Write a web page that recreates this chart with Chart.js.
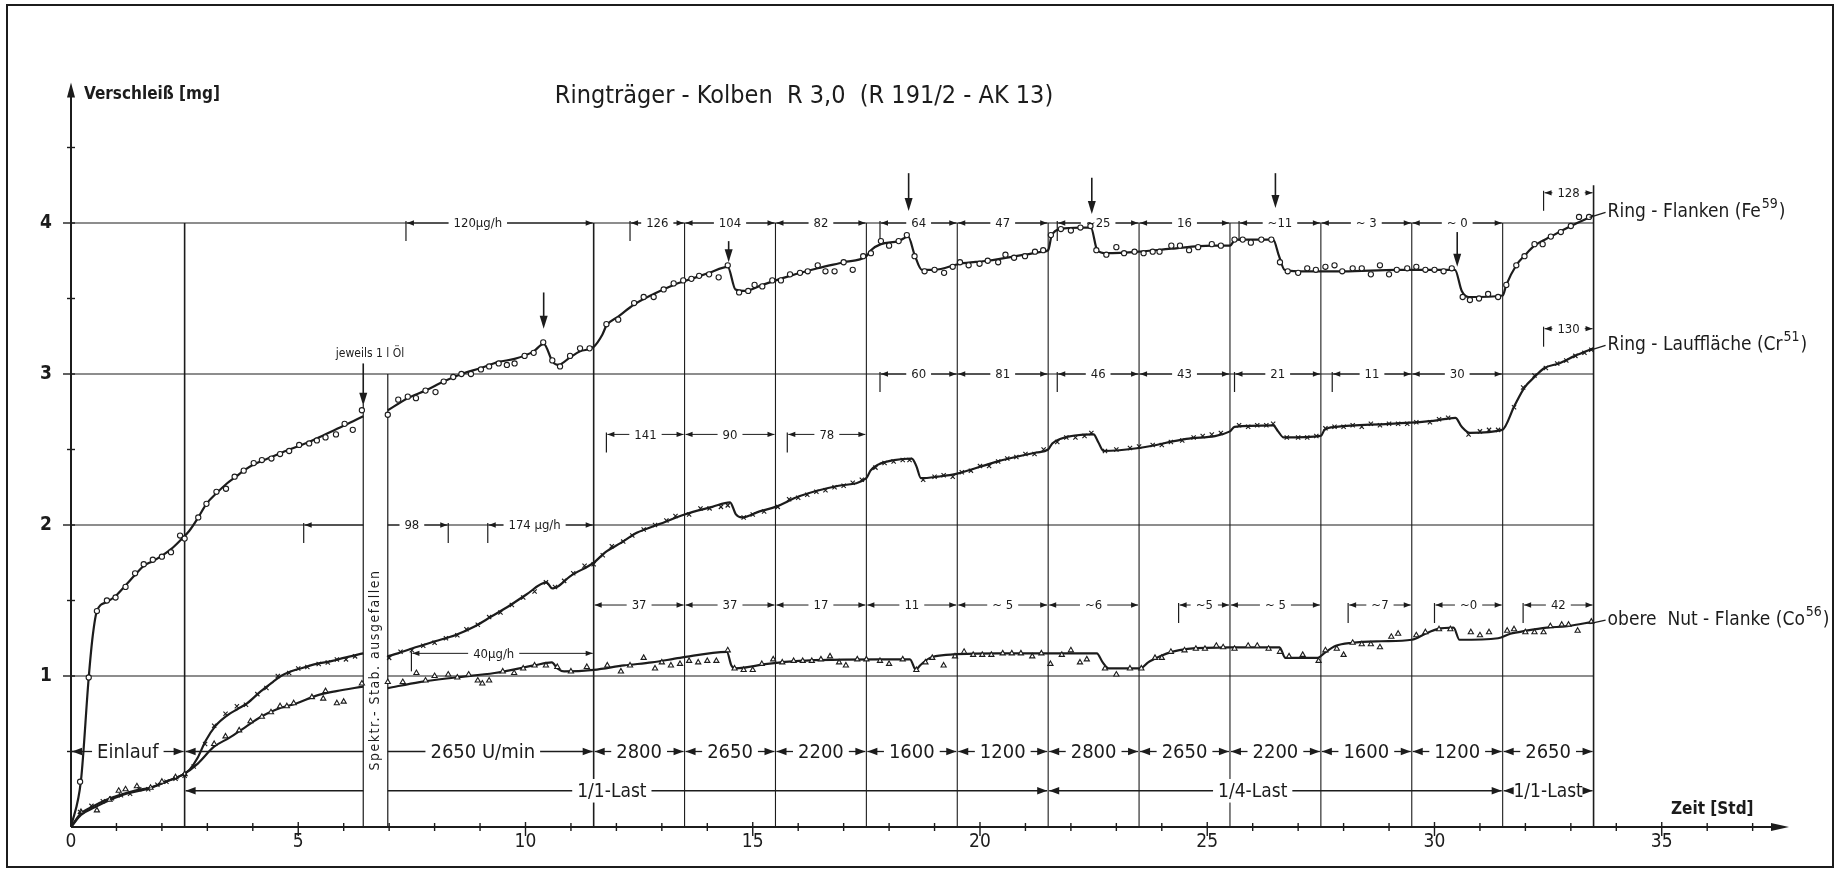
<!DOCTYPE html>
<html>
<head>
<meta charset="utf-8">
<script src="https://cdn.jsdelivr.net/npm/chart.js@4.4.1/dist/chart.umd.min.js"></script>
<style>
  html, body { margin: 0; padding: 0; background: #fff; }
</style>
</head>
<body>
<canvas id="wear-chart" width="1837" height="872"></canvas>
<script>
// ── Data (hours, mg) ─────────────────────────────────────────
// Ring-Flanken (Fe59) – fitted curve, null = spectrometer outage
const feCurve = [
  [0,0],[0.22,0.31],[0.39,0.99],[0.48,1.27],[0.57,1.43],[0.79,1.49],[0.98,1.53],[1.2,1.6],[1.41,1.67],
  [1.6,1.73],[1.8,1.76],[2.02,1.8],[2.2,1.84],[2.41,1.9],[2.6,1.96],[2.8,2.05],[2.98,2.14],[3.2,2.21],
  [3.41,2.27],[3.63,2.32],[3.8,2.36],[4.02,2.4],[4.41,2.45],[4.8,2.5],[5.24,2.55],[5.59,2.6],[6.02,2.66],
  [6.43,2.72],[6.7,null],[6.97,2.76],[7.41,2.84],[7.8,2.89],[8.2,2.95],[8.59,3.0],[9.02,3.04],[9.41,3.08],
  [9.76,3.1],[10.18,3.15],[10.4,3.2],[10.6,3.08],[10.72,3.06],[10.98,3.11],[11.2,3.15],[11.5,3.18],
  [11.69,3.26],[11.78,3.32],[12.04,3.38],[12.39,3.46],[12.82,3.53],[13.26,3.59],[13.65,3.63],[14.04,3.67],
  [14.45,3.71],[14.62,3.56],[14.82,3.55],[15.21,3.59],[15.82,3.65],[16.43,3.7],[17.0,3.74],[17.5,3.78],
  [17.6,3.82],[17.82,3.86],[18.21,3.88],[18.42,3.91],[18.56,3.79],[18.72,3.69],[19.0,3.69],[19.56,3.73],
  [20.17,3.75],[20.99,3.79],[21.39,3.81],[21.5,3.82],[21.58,3.92],[21.78,3.96],[22.21,3.97],[22.44,3.97],
  [22.58,3.82],[22.78,3.8],[23.5,3.81],[24.21,3.83],[25.1,3.85],[25.5,3.85],[25.62,3.89],[26.19,3.89],
  [26.45,3.89],[26.58,3.78],[26.7,3.69],[27.0,3.68],[28.0,3.68],[29.17,3.69],[30.2,3.69],[30.45,3.69],
  [30.6,3.55],[30.75,3.51],[31.5,3.52],[31.58,3.59],[31.8,3.72],[32.0,3.79],[32.2,3.85],[32.56,3.91],
  [33.0,3.98],[33.5,4.05]
];
const feMarks = [
  [0.2,0.3],[0.39,0.99],[0.57,1.43],[0.79,1.5],[0.98,1.52],[1.2,1.59],[1.41,1.68],[1.6,1.74],[1.8,1.77],
  [2.0,1.79],[2.2,1.82],[2.4,1.93],[2.5,1.91],[2.8,2.05],[2.98,2.14],[3.2,2.22],[3.41,2.24],[3.6,2.32],
  [3.8,2.36],[4.02,2.41],[4.2,2.43],[4.41,2.44],[4.6,2.47],[4.8,2.49],[5.02,2.53],[5.24,2.54],[5.41,2.56],
  [5.6,2.58],[5.83,2.6],[6.02,2.67],[6.2,2.63],[6.4,2.76],[6.97,2.73],[7.2,2.83],[7.41,2.85],[7.59,2.84],
  [7.8,2.89],[8.02,2.88],[8.2,2.95],[8.41,2.98],[8.59,3.0],[8.8,3.0],[9.02,3.03],[9.2,3.05],[9.41,3.07],
  [9.59,3.06],[9.76,3.07],[9.98,3.12],[10.18,3.14],[10.39,3.21],[10.59,3.09],[10.76,3.05],[10.98,3.12],
  [11.2,3.17],[11.41,3.17],[11.78,3.33],[12.04,3.36],[12.39,3.47],[12.6,3.51],[12.82,3.51],[13.04,3.56],
  [13.26,3.6],[13.47,3.62],[13.65,3.63],[13.82,3.65],[14.04,3.66],[14.25,3.64],[14.45,3.72],[14.7,3.54],
  [14.9,3.55],[15.04,3.59],[15.21,3.58],[15.43,3.62],[15.62,3.62],[15.82,3.66],[16.04,3.67],[16.21,3.68],
  [16.43,3.72],[16.6,3.68],[16.8,3.68],[17.0,3.74],[17.2,3.69],[17.43,3.78],[17.6,3.8],[17.82,3.88],
  [18.0,3.85],[18.21,3.88],[18.39,3.92],[18.56,3.78],[18.78,3.68],[19.0,3.69],[19.21,3.67],[19.4,3.71],
  [19.56,3.74],[19.75,3.72],[19.99,3.73],[20.17,3.75],[20.4,3.74],[20.56,3.79],[20.75,3.77],[20.99,3.78],
  [21.21,3.81],[21.39,3.82],[21.56,3.92],[21.78,3.96],[22.0,3.95],[22.21,3.97],[22.43,3.98],[22.56,3.82],
  [22.78,3.79],[23.0,3.84],[23.17,3.8],[23.4,3.81],[23.6,3.8],[23.8,3.81],[23.95,3.81],[24.21,3.85],
  [24.4,3.85],[24.6,3.82],[24.8,3.84],[25.1,3.86],[25.3,3.85],[25.6,3.89],[25.78,3.89],[25.96,3.87],
  [26.19,3.89],[26.41,3.89],[26.6,3.74],[26.77,3.68],[27.0,3.67],[27.2,3.7],[27.39,3.69],[27.6,3.71],
  [27.8,3.72],[27.97,3.68],[28.2,3.7],[28.4,3.7],[28.6,3.66],[28.8,3.72],[29.0,3.66],[29.17,3.69],
  [29.4,3.7],[29.6,3.71],[29.8,3.69],[30.0,3.69],[30.2,3.68],[30.38,3.7],[30.62,3.51],[30.78,3.49],
  [30.98,3.5],[31.18,3.53],[31.4,3.51],[31.58,3.59],[31.8,3.72],[31.98,3.78],[32.2,3.86],[32.38,3.86],
  [32.56,3.91],[32.78,3.94],[33.0,3.98],[33.18,4.04],[33.4,4.04]
];

// Ring-Lauffläche (Cr51)
const crCurve = [
  [0,0],[0.22,0.09],[0.44,0.13],[0.78,0.18],[1.05,0.21],[1.39,0.24],[1.74,0.26],[2.09,0.3],[2.48,0.35],
  [2.61,0.38],[2.79,0.46],[2.96,0.57],[3.18,0.67],[3.44,0.74],[3.66,0.78],[3.88,0.82],[4.18,0.9],[4.44,0.96],
  [4.62,1.0],[4.83,1.03],[5.05,1.05],[5.4,1.08],[5.75,1.1],[6.0,1.12],[6.43,1.15],[6.7,null],[6.97,1.13],
  [7.19,1.15],[7.58,1.19],[8.01,1.23],[8.45,1.27],[8.89,1.33],[9.23,1.39],[9.67,1.47],[10.02,1.54],
  [10.46,1.62],[10.59,1.58],[10.7,1.59],[10.98,1.66],[11.5,1.75],[11.76,1.82],[12.09,1.88],[12.46,1.95],
  [12.8,1.99],[13.07,2.02],[13.5,2.07],[14.11,2.12],[14.5,2.15],[14.63,2.07],[14.76,2.05],[15.15,2.09],
  [15.5,2.12],[16.02,2.19],[16.89,2.26],[17.5,2.31],[17.59,2.36],[17.76,2.4],[18.11,2.43],[18.5,2.44],
  [18.6,2.39],[18.7,2.31],[19.07,2.32],[19.5,2.34],[20.37,2.42],[21.24,2.48],[21.5,2.5],[21.59,2.54],
  [21.76,2.57],[22.5,2.6],[22.6,2.55],[22.72,2.49],[23.5,2.51],[24.54,2.57],[25.5,2.62],[25.6,2.65],
  [26.45,2.66],[26.56,2.62],[26.68,2.58],[27.5,2.59],[27.58,2.63],[27.84,2.65],[29.0,2.67],[29.97,2.69],
  [30.46,2.71],[30.6,2.65],[30.78,2.61],[31.49,2.63],[31.76,2.79],[31.98,2.91],[32.2,2.98],[32.42,3.04],
  [32.74,3.07],[33.09,3.12],[33.5,3.17]
];
const crMarks = [
  [0.2,0.1],[0.45,0.14],[0.7,0.17],[0.9,0.19],[1.1,0.21],[1.3,0.22],[1.5,0.25],[1.7,0.25],[1.9,0.28],
  [2.1,0.3],[2.3,0.32],[2.5,0.34],[2.7,0.4],[2.95,0.55],[3.15,0.67],[3.4,0.75],[3.65,0.8],[3.85,0.81],
  [4.1,0.88],[4.3,0.92],[4.55,1.0],[4.8,1.02],[5.0,1.05],[5.2,1.06],[5.45,1.08],[5.65,1.09],[5.85,1.11],
  [6.05,1.11],[6.25,1.13],[7.0,1.12],[7.25,1.16],[7.5,1.17],[7.75,1.2],[8.0,1.22],[8.25,1.25],[8.5,1.27],
  [8.7,1.31],[8.95,1.34],[9.2,1.39],[9.45,1.42],[9.7,1.47],[9.95,1.52],[10.2,1.56],[10.45,1.62],[10.65,1.59],
  [10.85,1.63],[11.05,1.68],[11.3,1.73],[11.5,1.74],[11.7,1.8],[11.9,1.86],[12.15,1.89],[12.35,1.93],
  [12.6,1.97],[12.85,2.0],[13.1,2.03],[13.3,2.06],[13.6,2.07],[13.85,2.11],[14.05,2.11],[14.3,2.12],
  [14.45,2.13],[14.8,2.05],[15.0,2.07],[15.25,2.09],[15.55,2.12],[15.8,2.17],[16.0,2.18],[16.2,2.2],
  [16.4,2.22],[16.6,2.23],[16.8,2.25],[17.0,2.26],[17.2,2.28],[17.4,2.3],[17.7,2.38],[17.9,2.41],[18.1,2.42],
  [18.3,2.43],[18.45,2.43],[18.75,2.3],[19.0,2.32],[19.2,2.33],[19.4,2.32],[19.6,2.35],[19.8,2.36],
  [20.0,2.39],[20.2,2.39],[20.4,2.42],[20.6,2.44],[20.8,2.45],[21.0,2.47],[21.2,2.47],[21.4,2.5],
  [21.7,2.55],[21.9,2.58],[22.1,2.58],[22.3,2.59],[22.45,2.61],[22.75,2.49],[23.0,2.5],[23.3,2.51],
  [23.5,2.52],[23.8,2.53],[24.0,2.53],[24.2,2.55],[24.45,2.56],[24.7,2.58],[24.9,2.59],[25.1,2.6],
  [25.3,2.61],[25.7,2.66],[25.9,2.65],[26.1,2.66],[26.3,2.66],[26.45,2.67],[26.75,2.58],[27.0,2.58],
  [27.2,2.58],[27.4,2.59],[27.6,2.64],[27.8,2.65],[28.0,2.65],[28.2,2.66],[28.4,2.65],[28.6,2.67],
  [28.8,2.66],[29.0,2.67],[29.2,2.67],[29.4,2.67],[29.6,2.68],[29.9,2.68],[30.1,2.7],[30.3,2.71],
  [30.75,2.6],[31.0,2.62],[31.2,2.63],[31.4,2.63],[31.75,2.78],[31.95,2.91],[32.2,2.99],[32.45,3.04],
  [32.7,3.07],[32.9,3.09],[33.1,3.12],[33.3,3.14],[33.45,3.16]
];

// obere Nut-Flanke (Co56)
const coCurve = [
  [0,0],[0.22,0.08],[0.52,0.13],[0.87,0.18],[1.22,0.22],[1.66,0.25],[2.09,0.3],[2.48,0.35],[2.79,0.42],
  [3.14,0.53],[3.48,0.59],[3.83,0.66],[4.18,0.73],[4.53,0.78],[4.97,0.82],[5.4,0.87],[5.84,0.9],[6.43,0.93],
  [6.7,null],[6.97,0.92],[7.67,0.96],[8.45,0.99],[9.32,1.02],[10.19,1.07],[10.58,1.09],[10.7,1.05],
  [10.85,1.03],[11.5,1.04],[12.17,1.07],[12.78,1.09],[13.4,1.12],[14.43,1.16],[14.53,1.07],[14.62,1.05],
  [15.32,1.08],[16.02,1.1],[17.76,1.11],[18.46,1.11],[18.59,1.04],[18.68,1.07],[18.9,1.12],[19.25,1.14],
  [20.38,1.15],[22.57,1.15],[22.7,1.09],[22.83,1.05],[23.53,1.05],[23.7,1.09],[23.96,1.13],[24.22,1.16],
  [24.57,1.18],[25.5,1.19],[26.59,1.19],[26.72,1.12],[27.43,1.12],[27.57,1.15],[27.83,1.2],[28.19,1.22],
  [28.82,1.23],[29.5,1.24],[29.8,1.28],[30.06,1.31],[30.42,1.32],[30.55,1.24],[31.4,1.25],[31.67,1.28],
  [32.02,1.3],[32.47,1.32],[32.92,1.33],[33.5,1.36]
];
const coMarks = [
  [0.22,0.1],[0.57,0.11],[0.85,0.18],[1.05,0.24],[1.2,0.25],[1.45,0.27],[1.75,0.26],[2.0,0.3],[2.3,0.33],
  [2.5,0.35],[3.15,0.55],[3.4,0.6],[3.7,0.64],[3.95,0.7],[4.2,0.73],[4.4,0.76],[4.6,0.8],[4.75,0.8],
  [4.9,0.82],[5.3,0.86],[5.55,0.85],[5.6,0.9],[5.85,0.82],[6.0,0.83],[6.4,0.95],[6.97,0.96],[7.3,0.96],
  [7.6,1.02],[7.8,0.97],[8.0,1.0],[8.3,1.01],[8.5,0.99],[8.75,1.01],[8.95,0.97],[9.05,0.95],[9.2,0.97],
  [9.5,1.03],[9.75,1.02],[9.95,1.05],[10.2,1.07],[10.45,1.07],[10.7,1.06],[11.0,1.03],[11.35,1.06],
  [11.8,1.07],[12.1,1.03],[12.3,1.07],[12.6,1.12],[12.85,1.05],[13.0,1.09],[13.2,1.07],[13.4,1.08],
  [13.6,1.1],[13.8,1.09],[14.0,1.1],[14.2,1.1],[14.45,1.17],[14.6,1.05],[14.8,1.04],[15.0,1.04],[15.2,1.08],
  [15.45,1.11],[15.65,1.09],[15.9,1.1],[16.1,1.1],[16.3,1.1],[16.5,1.11],[16.7,1.13],[16.9,1.09],
  [17.05,1.07],[17.3,1.11],[17.5,1.11],[17.8,1.1],[18.0,1.08],[18.3,1.11],[18.6,1.04],[18.8,1.09],
  [18.95,1.12],[19.2,1.07],[19.45,1.13],[19.65,1.16],[19.85,1.14],[20.05,1.14],[20.25,1.14],[20.5,1.15],
  [20.7,1.15],[20.9,1.15],[21.15,1.13],[21.35,1.15],[21.55,1.08],[21.8,1.14],[22.0,1.17],[22.2,1.09],
  [22.35,1.11],[22.75,1.05],[23.0,1.01],[23.3,1.05],[23.55,1.05],[23.85,1.12],[24.0,1.12],[24.2,1.16],
  [24.5,1.17],[24.75,1.18],[24.95,1.18],[25.2,1.2],[25.35,1.19],[25.6,1.18],[25.9,1.2],[26.1,1.2],
  [26.35,1.18],[26.6,1.16],[26.8,1.13],[27.1,1.14],[27.45,1.1],[27.6,1.17],[27.85,1.18],[28.0,1.14],
  [28.2,1.22],[28.4,1.21],[28.6,1.21],[28.8,1.19],[29.05,1.26],[29.2,1.28],[29.6,1.27],[29.8,1.29],
  [30.1,1.31],[30.35,1.31],[30.8,1.29],[31.0,1.27],[31.2,1.29],[31.6,1.3],[31.75,1.31],[32.0,1.29],
  [32.2,1.29],[32.4,1.29],[32.55,1.33],[32.8,1.34],[32.95,1.34],[33.15,1.3],[33.45,1.36]
];

// ── Test programme (hours) ───────────────────────────────────
const phaseEdges = [2.5, 11.5, 13.5, 15.5, 17.5, 19.5, 21.5, 23.5, 25.5, 27.5, 29.5, 31.5, 33.5];
const outage = [6.43, 6.97];           // Spektr.-Stab. ausgefallen
const gridLevels = [1, 2, 3, 4];

// [from h, to h, label, optional label centre h]
const speedRow = [
  [0, 2.5, 'Einlauf'], [2.5, 11.5, '2650 U/min', 9.06], [11.5, 13.5, '2800'], [13.5, 15.5, '2650'],
  [15.5, 17.5, '2200'], [17.5, 19.5, '1600'], [19.5, 21.5, '1200'], [21.5, 23.5, '2800'],
  [23.5, 25.5, '2650'], [25.5, 27.5, '2200'], [27.5, 29.5, '1600'], [29.5, 31.5, '1200'], [31.5, 33.5, '2650']
];
const loadRow = [[2.5, 21.5, '1/1-Last', 11.9], [21.5, 31.5, '1/4-Last', 26.0], [31.5, 33.5, '1/1-Last']];

// wear rates µg/h
const feRates = [
  [7.37, 11.5, '120µg/h', 8.95], [12.3, 13.5, '126'], [13.5, 15.5, '104'], [15.5, 17.5, '82'],
  [17.8, 19.5, '64'], [19.5, 21.5, '47'], [21.7, 23.5, '~25'], [23.5, 25.5, '16'],
  [25.7, 27.5, '~11'], [27.5, 29.5, '~ 3'], [29.5, 31.5, '~ 0']
];
const feRatesEnd = [[32.4, 33.5, '128']];
const crRatesTop = [
  [17.8, 19.5, '60'], [19.5, 21.5, '81'], [21.7, 23.5, '46'], [23.5, 25.5, '43'],
  [25.6, 27.5, '21'], [27.75, 29.5, '11'], [29.5, 31.5, '30']
];
const crRatesEnd = [[32.4, 33.5, '130']];
const crRatesMid = [[11.78, 13.5, '141'], [13.5, 15.5, '90'], [15.76, 17.5, '78']];
const crRatesLow = [[5.12, 8.3, '98', 7.5], [9.17, 11.5, '174 µg/h', 10.2]];
const coRates = [
  [11.5, 13.5, '37'], [13.5, 15.5, '37'], [15.5, 17.5, '17'], [17.5, 19.5, '11'], [19.5, 21.5, '~ 5'],
  [21.5, 23.5, '~6'], [24.37, 25.5, '~5'], [25.5, 27.5, '~ 5'], [28.1, 29.5, '~7'], [30.0, 31.5, '~0'],
  [31.95, 33.5, '42']
];
const coRatesEarly = [[7.49, 11.5, '40µg/h', 9.3]];

// oil top-up arrows on the Fe curve: [h, from mg, to mg]
const oilArrows = [[6.43, 3.07, 2.79], [10.4, 3.54, 3.3], [14.47, 3.88, 3.74], [18.43, 4.33, 4.08],
                   [22.46, 4.3, 4.06], [26.5, 4.33, 4.1], [30.5, 3.94, 3.71]];

// ── Style ────────────────────────────────────────────────────
const ink = '#1c1c1c';
const FONT = '"DejaVu Sans Condensed", "Liberation Sans Narrow", "DejaVu Sans", sans-serif';

const toPts = arr => arr.map(p => ({ x: p[0], y: p[1] }));

function curveSet(data) {
  return { data: toPts(data), showLine: true, borderColor: ink, borderWidth: 2.2, pointRadius: 0,
           cubicInterpolationMode: 'monotone', spanGaps: false, fill: false };
}
function markSet(data, style, r) {
  return { data: toPts(data), showLine: false, pointStyle: style, pointRadius: r, borderWidth: 1.1,
           borderColor: ink, backgroundColor: '#fff' };
}

// ── Drawing helpers ──────────────────────────────────────────
function arrowHead(ctx, x, y, ang, len, hw) {
  ctx.save();
  ctx.translate(x, y);
  ctx.rotate(ang);
  ctx.beginPath();
  ctx.moveTo(0, 0);
  ctx.lineTo(-len, -hw);
  ctx.lineTo(-len, hw);
  ctx.closePath();
  ctx.fill();
  ctx.restore();
}

function paperPlugin() {
  let X, Y;

  function hseg(ctx, a, b, py, skipGap) {
    const parts = [];
    if (skipGap) {
      const g1 = X(outage[0]), g2 = X(outage[1]);
      if (b <= g1 || a >= g2) parts.push([a, b]);
      else {
        if (a < g1) parts.push([a, g1]);
        if (b > g2) parts.push([g2, b]);
      }
    } else parts.push([a, b]);
    ctx.beginPath();
    parts.forEach(([p, q]) => { ctx.moveTo(p, py); ctx.lineTo(q, py); });
    ctx.stroke();
  }

  function bracket(ctx, item, yv, size, opts) {
    const [x1, x2, label, lx] = item;
    const px1 = X(x1), px2 = X(x2), py = Y(yv);
    const skipGap = yv <= 2.2;
    ctx.font = `${size}px ${FONT}`;
    const w = ctx.measureText(label).width;
    const cx = X(lx !== undefined ? lx : (x1 + x2) / 2);
    const l = cx - w / 2 - 5, r = cx + w / 2 + 5;
    // clear grid under label
    ctx.fillStyle = '#fff';
    ctx.fillRect(l, py - size * 0.62, r - l, size * 1.24);
    ctx.fillStyle = ink;
    ctx.lineWidth = opts.lw;
    hseg(ctx, px1 + 1, l, py, skipGap);
    hseg(ctx, r, px2 - 1, py, skipGap);
    arrowHead(ctx, px1 + 1, py, Math.PI, opts.ah, opts.ah * 0.38);
    arrowHead(ctx, px2 - 1, py, 0, opts.ah, opts.ah * 0.38);
    ctx.lineWidth = 1.2;
    [x1, x2].forEach(v => {
      if (v > 0.05 && !phaseEdges.includes(v)) {
        ctx.beginPath();
        ctx.moveTo(X(v), py - 2);
        ctx.lineTo(X(v), py + 18);
        ctx.stroke();
      }
    });
    ctx.textAlign = 'center';
    ctx.textBaseline = 'middle';
    ctx.fillText(label, cx, py + 1);
  }

  function supLabel(ctx, x, y, base, sup, tail, size) {
    ctx.textAlign = 'left';
    ctx.textBaseline = 'middle';
    ctx.font = `${size}px ${FONT}`;
    ctx.fillText(base, x, y);
    const w = ctx.measureText(base).width;
    ctx.font = `${Math.round(size * 0.72)}px ${FONT}`;
    ctx.fillText(sup, x + w + 1, y - size * 0.42);
    const w2 = ctx.measureText(sup).width;
    ctx.font = `${size}px ${FONT}`;
    ctx.fillText(tail, x + w + w2 + 2, y);
  }

  return {
    id: 'paper',
    beforeDraw(chart) {
      const ctx = chart.ctx;
      ctx.save();
      ctx.fillStyle = '#fff';
      ctx.fillRect(0, 0, chart.width, chart.height);
      ctx.restore();
    },
    beforeDatasetsDraw(chart) {
      const ctx = chart.ctx;
      const xs = chart.scales.x, ys = chart.scales.y;
      X = v => xs.getPixelForValue(v);
      Y = v => ys.getPixelForValue(v);
      const last = phaseEdges[phaseEdges.length - 1];
      ctx.save();
      ctx.strokeStyle = ink;
      ctx.fillStyle = ink;

      // horizontal grid
      ctx.lineWidth = 1.2;
      gridLevels.forEach(v => hseg(ctx, X(0), X(last), Y(v), v <= 2));

      // phase lines
      phaseEdges.forEach(v => {
        ctx.lineWidth = (v === 2.5 || v === 11.5 || v === last) ? 1.6 : 1.1;
        ctx.beginPath();
        ctx.moveTo(X(v), Y(0));
        ctx.lineTo(X(v), Y(v === last ? 4.25 : 4));
        ctx.stroke();
      });
      // outage band
      ctx.lineWidth = 1.2;
      ctx.beginPath();
      ctx.moveTo(X(outage[0]), Y(0)); ctx.lineTo(X(outage[0]), Y(2.8));
      ctx.moveTo(X(outage[1]), Y(0)); ctx.lineTo(X(outage[1]), Y(3));
      ctx.stroke();

      // rate brackets
      const small = { lw: 1, ah: 7 };
      feRates.forEach(it => bracket(ctx, it, 4.0, 13, small));
      feRatesEnd.forEach(it => bracket(ctx, it, 4.2, 13, small));
      crRatesTop.forEach(it => bracket(ctx, it, 3.0, 13, small));
      crRatesEnd.forEach(it => bracket(ctx, it, 3.3, 13, small));
      crRatesMid.forEach(it => bracket(ctx, it, 2.6, 13, small));
      crRatesLow.forEach(it => bracket(ctx, it, 2.0, 13, small));
      coRates.forEach(it => bracket(ctx, it, 1.47, 13, small));
      coRatesEarly.forEach(it => bracket(ctx, it, 1.15, 13, small));

      // speed and load rows
      const big = { lw: 1.3, ah: 10 };
      speedRow.forEach(it => bracket(ctx, it, 0.5, 20, big));
      loadRow.forEach(it => bracket(ctx, it, 0.24, 19, big));

      // oil arrows
      ctx.lineWidth = 1.6;
      oilArrows.forEach(([h, a, b]) => {
        ctx.beginPath();
        ctx.moveTo(X(h), Y(a));
        ctx.lineTo(X(h), Y(b) - 8);
        ctx.stroke();
        arrowHead(ctx, X(h), Y(b), Math.PI / 2, 13, 4);
      });

      // axes
      ctx.lineWidth = 2;
      const ox = X(0), oy = Y(0);
      ctx.beginPath();
      ctx.moveTo(ox, oy); ctx.lineTo(ox, Y(4.93) + 10);
      ctx.moveTo(ox, oy); ctx.lineTo(xs.right - 12, oy);
      ctx.stroke();
      arrowHead(ctx, ox, Y(4.93), -Math.PI / 2, 15, 4);
      arrowHead(ctx, xs.right, oy, 0, 18, 4);
      ctx.lineWidth = 1.4;
      for (let h = 1; h <= 37; h++) {
        const major = h % 5 === 0;
        ctx.beginPath();
        ctx.moveTo(X(h), oy - (major ? 5 : 4));
        ctx.lineTo(X(h), oy + (major ? 9 : 4));
        ctx.stroke();
      }
      for (let v = 0.5; v <= 4.5; v += 0.5) {
        const major = Number.isInteger(v);
        ctx.beginPath();
        ctx.moveTo(ox - (major ? 8 : 4), Y(v));
        ctx.lineTo(ox + 4, Y(v));
        ctx.stroke();
      }

      // outage text
      ctx.save();
      ctx.translate((X(outage[0]) + X(outage[1])) / 2, Y(1.04));
      ctx.rotate(-Math.PI / 2);
      ctx.font = `14px ${FONT}`;
      ctx.letterSpacing = '1.5px';
      ctx.textAlign = 'center';
      ctx.textBaseline = 'middle';
      ctx.fillText('Spektr.- Stab. ausgefallen', 0, 0);
      ctx.restore();

      ctx.font = `12px ${FONT}`;
      ctx.textAlign = 'center';
      ctx.textBaseline = 'middle';
      ctx.fillText('jeweils 1 l Öl', X(6.58), Y(3.13));
      ctx.restore();
    },
    afterDraw(chart) {
      const ctx = chart.ctx;
      const last = phaseEdges[phaseEdges.length - 1];
      ctx.save();
      ctx.fillStyle = ink;
      ctx.strokeStyle = ink;

      // title and axis captions
      ctx.font = `25px ${FONT}`;
      ctx.textAlign = 'center';
      ctx.textBaseline = 'middle';
      ctx.fillText('Ringträger - Kolben  R 3,0  (R 191/2 - AK 13)', 804, 96);
      ctx.font = `bold 17px ${FONT}`;
      ctx.textAlign = 'left';
      ctx.fillText('Verschleiß [mg]', 84, 95);
      ctx.fillText('Zeit [Std]', 1671, 810);

      // curve labels with leader ticks
      const ends = [[4.05, 4.07, 'Ring - Flanken (Fe', '59', ')'],
                    [3.17, 3.19, 'Ring - Lauffläche (Cr', '51', ')'],
                    [1.36, 1.37, 'obere  Nut - Flanke (Co', '56', ')']];
      ends.forEach(([ey, ly, a, b, c]) => {
        ctx.lineWidth = 1.4;
        ctx.beginPath();
        ctx.moveTo(X(last) - 4, Y(ey) + 2);
        ctx.lineTo(X(last) + 12, Y(ly));
        ctx.stroke();
        supLabel(ctx, X(last) + 14, Y(ly), a, b, c, 19);
      });

      // frame
      ctx.lineWidth = 2;
      ctx.strokeRect(7, 5, 1826, 862);
      ctx.restore();
    }
  };
}

// ── Chart ────────────────────────────────────────────────────
const ctx = document.getElementById('wear-chart').getContext('2d');
new Chart(ctx, {
  type: 'scatter',
  data: {
    datasets: [
      markSet(feMarks, 'circle', 2.6),
      markSet(crMarks, 'crossRot', 3),
      markSet(coMarks, 'triangle', 3),
      curveSet(feCurve),
      curveSet(crCurve),
      curveSet(coCurve)
    ]
  },
  options: {
    responsive: false,
    animation: false,
    layout: { padding: { left: 0, right: 48, top: 72, bottom: 0 } },
    plugins: { legend: { display: false }, tooltip: { enabled: false } },
    scales: {
      x: {
        type: 'linear', min: 0, max: 37.8,
        grid: { display: false }, border: { display: false },
        afterFit: s => { s.height = 45; },
        ticks: {
          stepSize: 5, autoSkip: false, maxRotation: 0, padding: -4, color: ink,
          font: { family: FONT, size: 19 },
          callback: v => (v % 5 === 0 && v <= 35) ? String(v) : ''
        }
      },
      y: {
        type: 'linear', min: 0, max: 5,
        grid: { display: false }, border: { display: false },
        afterFit: s => { s.width = 71; },
        ticks: {
          stepSize: 0.5, padding: 11, color: ink,
          font: { family: FONT, size: 19, weight: 'bold' },
          callback: v => (Number.isInteger(v) && v >= 1 && v <= 4) ? String(v) : ''
        }
      }
    }
  },
  plugins: [paperPlugin()]
});
</script>
</body>
</html>
